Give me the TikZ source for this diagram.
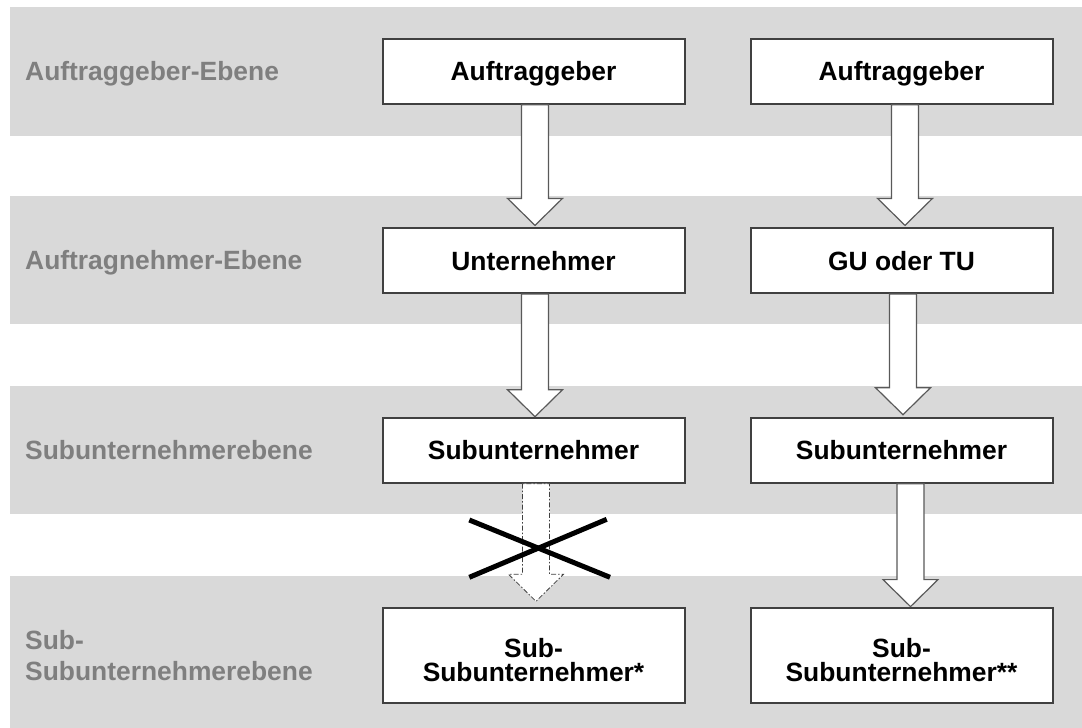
\documentclass[tikz,border=0pt]{standalone}
\usepackage{fontspec}
\setmainfont{Liberation Sans}
\usetikzlibrary{calc}
\definecolor{band}{HTML}{D9D9D9}
\definecolor{lab}{HTML}{7F7F7F}
\definecolor{boxline}{HTML}{404040}
\definecolor{arrline}{HTML}{595959}
\newcommand\blockarr[5][]{%
  \draw[barrow,#1]
    ($(#2.south)+(#4-13.5,0)$) --
    ($(#3.north)+(#4-13.5,-#5-27)$) --
    ($(#3.north)+(#4-27.5,-#5-27)$) --
    ($(#3.north)+(#4,-#5)$) --
    ($(#3.north)+(#4+27.5,-#5-27)$) --
    ($(#3.north)+(#4+13.5,-#5-27)$) --
    ($(#2.south)+(#4+13.5,0)$) -- cycle;}
\tikzset{
  bandrect/.style={fill=band, draw=none},
  lvl/.style={font=\fontsize{26.4}{31}\selectfont\bfseries, text=lab, inner sep=0pt, align=left},
  box/.style={draw=boxline, line width=2pt, fill=white, minimum width=302pt, minimum height=65pt,
    inner sep=2pt, font=\fontsize{26.4}{24.5}\selectfont\bfseries, text height=19pt, text depth=0pt, align=center},
  barrow/.style={draw=arrline, line width=1.2pt, fill=white, line join=miter},
  crossed/.style={dash pattern=on 5pt off 2pt on 1.5pt off 2pt, draw=boxline, line width=0.8pt},
  xline/.style={line width=5pt, draw=black}
}
\begin{document}
\begin{tikzpicture}[x=1pt,y=-1pt]
\useasboundingbox (0,0) rectangle (1082,728);
\fill[bandrect] (10,7) rectangle (1082,135.5);
\fill[bandrect] (10,196.4) rectangle (1082,324.3);
\fill[bandrect] (10,386) rectangle (1082,513.6);
\fill[bandrect] (10,576.4) rectangle (1082,728);

\node[lvl, anchor=base west] (l1) at (25,80.7) {Auftraggeber-Ebene};
\node[lvl, anchor=base west] (l2) at (25,269.8) {Auftragnehmer-Ebene};
\node[lvl, anchor=base west] (l3) at (25,459.3) {Subunternehmerebene};
\node[lvl, anchor=west, text height=50pt, text depth=0pt] (l4) at (25,655.1) {Sub-\\Subunternehmerebene};

\node[box] (a1) at (533.5,71.2) {Auftraggeber};
\node[box] (a2) at (901.5,71.2) {Auftraggeber};
\node[box] (b1) at (533.5,260.5) {Unternehmer};
\node[box] (b2) at (901.5,260.5) {GU oder TU};
\node[box] (c1) at (533.5,450.2) {Subunternehmer};
\node[box] (c2) at (901.5,450.2) {Subunternehmer};
\node[box, minimum height=95pt, text height=53.5pt] (d1) at (533.5,655.1) {Sub-\\Subunternehmer*};
\node[box, minimum height=95pt, text height=53.5pt] (d2) at (901.5,655.1) {Sub-\\Subunternehmer**};

\blockarr{a1}{b1}{1.5}{1.6}
\blockarr{a2}{b2}{3.5}{1.6}
\blockarr{b1}{c1}{1.5}{0}
\blockarr{b2}{c2}{1.5}{2}
\blockarr[crossed]{c1}{d1}{2.5}{5.3}
\blockarr{c2}{d2}{9}{0}

\coordinate (xc) at (538.3,548.3);
\draw[xline] (469.3,520) -- (610,577.3);
\draw[xline] (469.3,577.3) -- (606.7,519.3);
\end{tikzpicture}
\end{document}
